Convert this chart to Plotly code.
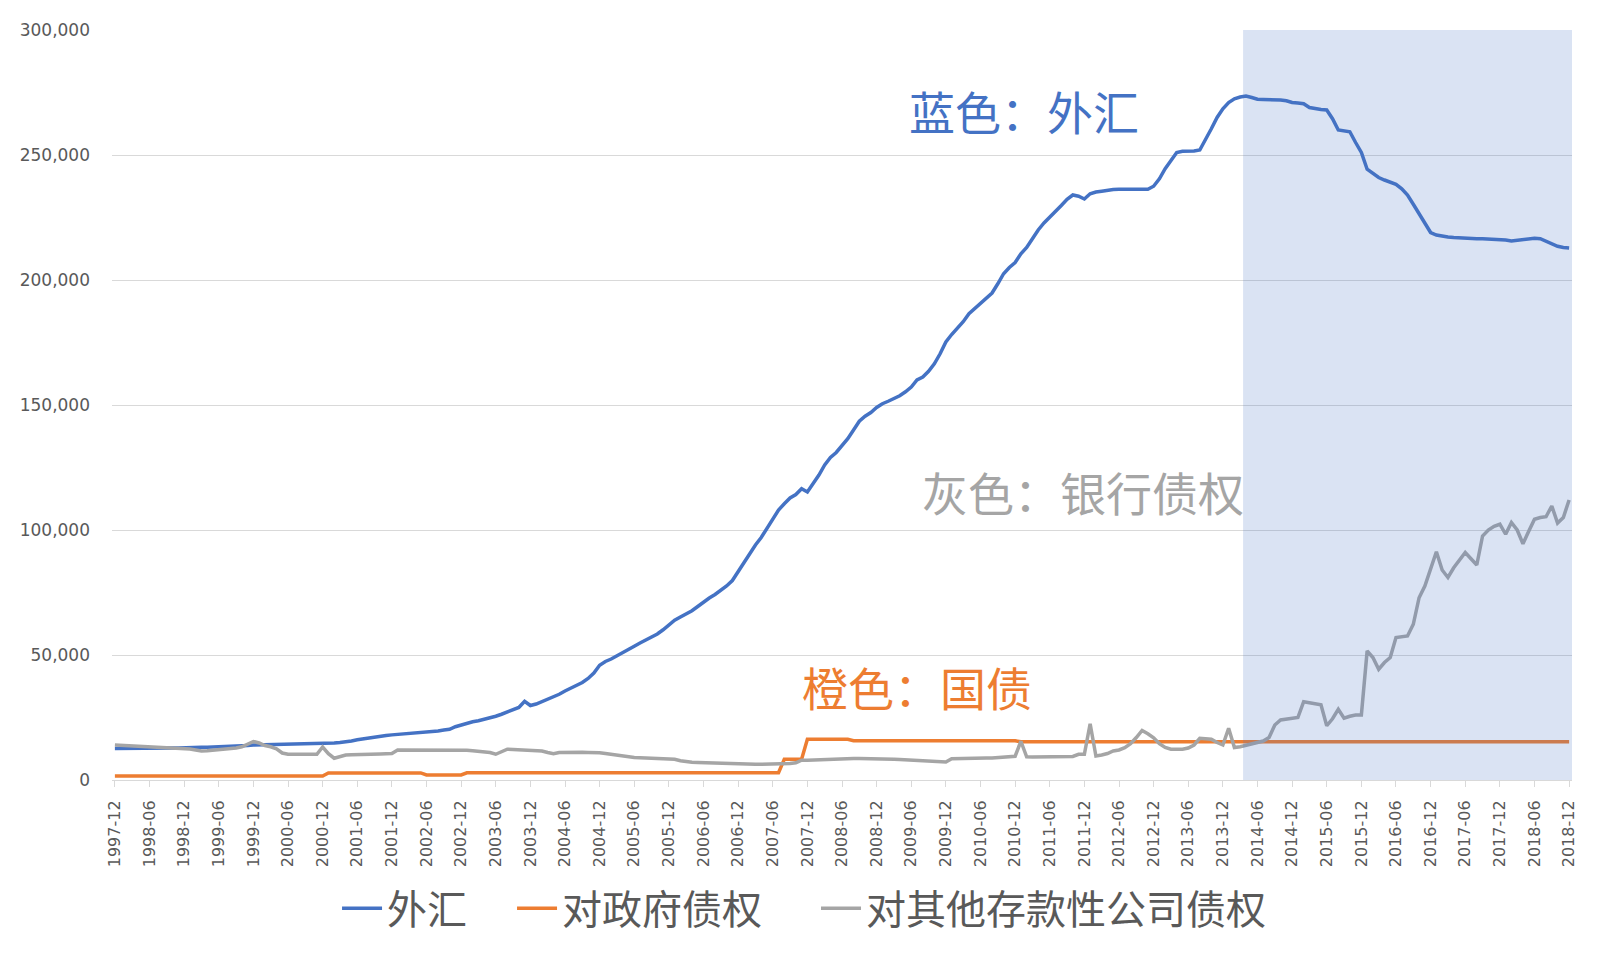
import pandas as pd
import plotly.graph_objects as go

# monthly categories 1997-12 .. 2018-12
months = [p.strftime("%Y-%m") for p in pd.period_range("1997-12", "2018-12", freq="M")]
tick_labels = months[::6]

# 外汇 (亿元)
fx = [12650,
      12700, 12720, 12740, 12760, 12780, 12790, 12800, 12810, 12820, 12830, 12850, 13000,
      13050, 13100, 13120, 13150, 13200, 13350, 13600, 13650, 13700, 13750, 13800, 14000,
      14050, 14080, 14100, 14120, 14150, 14180, 14200, 14230, 14250, 14300, 14350, 14400,
      14600, 14800, 15000, 15200, 15600, 16100, 16500, 16900, 17300, 17600, 17800, 18050,
      18200, 18400, 18600, 18800, 19000, 19100, 19300, 19600, 20000, 20300, 21300, 22000,
      22800, 23300, 23700, 24200, 24800, 25500, 26300, 27100, 28000, 29000, 31500, 29800,
      30400, 31300, 32200, 33200, 34300, 35600, 36700, 37800, 39000, 40600, 42800, 45900,
      47400, 48400, 49600, 50800, 52000, 53500, 54800, 55900, 57000, 58400, 60100, 62100,
      63900, 65200, 66400, 67700, 69400, 71200, 72800, 74200, 75700, 77600, 79800, 83500,
      87000, 90500, 94000, 97000, 100500, 104500, 108000, 110500, 112800, 114200, 116500, 115200,
      118500, 122000, 126000, 129000, 131000, 133500, 136500, 140000, 143500, 145500, 147000, 149000,
      150500, 151500, 152500, 153700, 155300, 157200, 160000, 161200, 163500, 166500, 170500, 175200,
      178200, 180800, 183300, 186500, 188500, 190500, 192500, 194800, 198500, 202500, 205000, 207000,
      210500, 213000, 216500, 220000, 222800, 225000, 227500, 229800, 232300, 234000, 233500, 232400,
      234500, 235200, 235500, 236000, 236200, 236300, 236300, 236200, 236200, 236200, 236300, 237500,
      240500, 244500, 248000, 251000, 251500, 251500, 251600, 252000, 256000, 260500, 265000, 268500,
      271000, 272500, 273200, 273600, 273000, 272300, 272200, 272200, 272100, 272000, 271700, 271000,
      270800, 270500, 269000, 268500, 268200, 268000, 264500, 260000, 259700, 259300, 255000, 251000,
      244300, 242500, 241000, 240000, 239000, 238300, 236500, 234000, 230300, 226500, 222500, 219000,
      218000, 217500, 217200, 217000, 216800, 216700, 216600, 216500, 216500, 216400, 216400, 216300,
      216000, 215600, 215800, 216200, 216500, 216700, 216500, 215600, 214500, 213500, 213000, 212800]

# 对政府债权
gov = [1580,
       1580, 1580, 1580, 1580, 1580, 1580, 1580, 1580, 1580, 1580, 1580, 1580,
       1580, 1580, 1580, 1580, 1580, 1580, 1580, 1580, 1580, 1580, 1580, 1580,
       1580, 1580, 1580, 1580, 1580, 1580, 1580, 1580, 1580, 1580, 1580, 1580,
       2820, 2820, 2820, 2820, 2820, 2820, 2820, 2820, 2820, 2820, 2820, 2820,
       2830, 2830, 2830, 2830, 2830, 2000, 2000, 2000, 2000, 2000, 2000, 2000,
       2860, 2860, 2860, 2860, 2860, 2860, 2860, 2860, 2860, 2860, 2860, 2860,
       2900, 2900, 2900, 2900, 2900, 2900, 2900, 2900, 2900, 2900, 2900, 2900,
       2900, 2900, 2900, 2900, 2900, 2900, 2900, 2900, 2900, 2900, 2900, 2900,
       2900, 2900, 2900, 2900, 2900, 2900, 2900, 2900, 2900, 2900, 2900, 2900,
       2900, 2900, 2900, 2900, 2900, 2900, 2900, 8300, 8300, 8300, 8300, 16300,
       16300, 16300, 16300, 16300, 16300, 16300, 16300, 15700, 15700, 15700, 15700, 15700,
       15700, 15700, 15700, 15700, 15700, 15700, 15700, 15700, 15700, 15700, 15700, 15700,
       15700, 15700, 15700, 15700, 15700, 15700, 15700, 15700, 15700, 15700, 15700, 15700,
       15300, 15300, 15300, 15300, 15300, 15300, 15300, 15300, 15300, 15300, 15300, 15300,
       15300, 15300, 15300, 15300, 15300, 15300, 15300, 15300, 15300, 15300, 15300, 15300,
       15300, 15300, 15300, 15300, 15300, 15300, 15300, 15300, 15300, 15300, 15300, 15300,
       15300, 15300, 15300, 15300, 15300, 15300, 15300, 15300, 15300, 15300, 15300, 15300,
       15300, 15300, 15300, 15300, 15300, 15300, 15300, 15300, 15300, 15300, 15300, 15300,
       15300, 15300, 15300, 15300, 15300, 15300, 15300, 15300, 15300, 15300, 15300, 15300,
       15300, 15300, 15300, 15300, 15300, 15300, 15300, 15300, 15300, 15300, 15300, 15300,
       15300, 15300, 15300, 15300, 15300, 15300, 15300, 15300, 15300, 15300, 15300, 15300]

# 对其他存款性公司债权
banks = [14000,
         13900, 13800, 13700, 13600, 13500, 13400, 13300, 13200, 13100, 13000, 12900, 12800,
         12400, 12000, 11600, 11700, 11900, 12100, 12300, 12500, 12800, 13300, 14200, 15400,
         14800, 13800, 13300, 12500, 10800, 10300, 10300, 10300, 10400, 10300, 10300, 13200,
         10500, 8700, 9300, 10000, 10100, 10100, 10200, 10200, 10300, 10400, 10500, 10600,
         12000, 12000, 12000, 12100, 12000, 12000, 12100, 12100, 12000, 11900, 11800, 12000,
         11900, 11700, 11500, 11300, 11000, 10300, 11200, 12300, 12200, 12100, 12000, 11800,
         11900, 11600, 11000, 10500, 11000, 11100, 11100, 11100, 11100, 11000, 11000, 10900,
         10600, 10300, 9900, 9400, 9200, 9000, 8900, 8800, 8700, 8600, 8500, 8400,
         8300, 7700, 7300, 7100, 7000, 6900, 6900, 6800, 6700, 6500, 6400, 6400,
         6400, 6400, 6300, 6300, 6300, 6300, 6300, 6400, 6600, 6900, 7900, 7900,
         8000, 8300, 8200, 8400, 8600, 8700, 8700, 8600, 8600, 8600, 8600, 8500,
         8500, 8400, 8300, 8200, 8100, 8000, 8000, 7900, 7800, 7700, 7600, 7200,
         8500, 8600, 8700, 8700, 8700, 8700, 8800, 8800, 8900, 9000, 9200, 9500,
         15500, 9300, 9200, 9200, 9200, 9300, 9300, 9300, 9300, 9400, 10300, 10300,
         22500, 9600, 10000, 10600, 11600, 12000, 12900, 14500, 17000, 19800, 18500, 16900,
         14500, 13000, 12300, 12300, 12300, 12800, 14000, 16700, 16500, 16300, 15000, 14000,
         20700, 13000, 13300, 13800, 14300, 15000, 15600, 17000, 22000, 24000, 24300, 24700,
         25000, 31300, 31000, 30500, 30100, 21700, 24500, 28300, 24700, 25500, 26000, 26000,
         51600, 49000, 44300, 47000, 49000, 57000, 57300, 57600, 62300, 72900, 77600, 84700,
         91300, 84000, 81000, 84900, 88000, 91000, 88500, 86000, 97600, 100000, 101500, 102300,
         98300, 103000, 100000, 94500, 99500, 104300, 105000, 105300, 109600, 102800, 105000, 112000]

BLUE = "#4472C4"
ORANGE = "#ED7D31"
GREY = "#A5A5A5"
CJK = "Noto Sans CJK SC"

fig = go.Figure()
fig.add_trace(go.Scatter(x=months, y=fx, mode="lines", name="外汇\u3000",
                         line=dict(color=BLUE, width=3.5)))
fig.add_trace(go.Scatter(x=months, y=gov, mode="lines", name="对政府债权\u3000\u00a0",
                         line=dict(color=ORANGE, width=3.5)))
fig.add_trace(go.Scatter(x=months, y=banks, mode="lines", name="对其他存款性公司债权",
                         line=dict(color=GREY, width=3.5)))

# shaded period (2014-04 onwards), drawn over the lines
fig.add_shape(type="rect", xref="x", yref="y", x0=195.5, x1=252.5, y0=0, y1=300000,
              fillcolor="rgba(68,114,196,0.2)", line_width=0, layer="above")

# coloured notes
fig.add_annotation(x=157.6, y=268000, text="蓝色：外汇", showarrow=False,
                   font=dict(family=CJK, size=46, color=BLUE))
fig.add_annotation(x=167.8, y=115800, text="灰色：银行债权", showarrow=False,
                   font=dict(family=CJK, size=46, color=GREY))
fig.add_annotation(x=139, y=37600, text="橙色：国债", showarrow=False,
                   font=dict(family=CJK, size=46, color=ORANGE))

fig.update_layout(
    width=1599, height=958,
    margin=dict(l=94, r=35, t=13, b=186),
    plot_bgcolor="white", paper_bgcolor="white",
    showlegend=True,
    legend=dict(orientation="h", x=0.474, xanchor="center", y=-0.171, yanchor="middle",
                font=dict(family=CJK, size=40, color="#595959"),
                itemwidth=40, tracegroupgap=0),
)
fig.update_xaxes(type="category", range=[-0.5, 252.5],
                 tickmode="array", tickvals=tick_labels, ticktext=tick_labels,
                 tickangle=-90, ticks="outside", ticklen=6, tickcolor="#D9D9D9",
                 ticklabelstandoff=7,
                 showline=True, linecolor="#D9D9D9", linewidth=1, showgrid=False,
                 tickfont=dict(family="DejaVu Sans", size=16, color="#595959"))
fig.update_yaxes(range=[0, 300000], dtick=50000, tickformat=",",
                 showgrid=True, gridcolor="#D9D9D9", gridwidth=1,
                 zeroline=False, showline=False, ticklabelstandoff=21,
                 tickfont=dict(family="DejaVu Sans", size=17, color="#595959"))

fig.write_html("out.html")
